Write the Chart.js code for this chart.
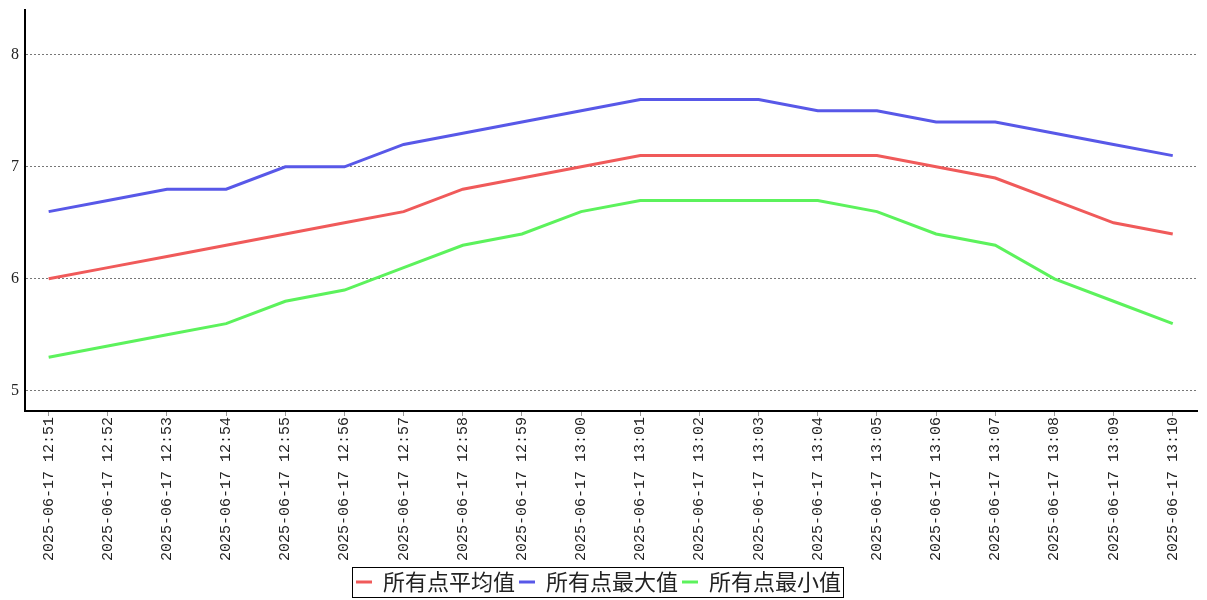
<!DOCTYPE html>
<html>
<head>
<meta charset="utf-8">
<script src="https://cdn.jsdelivr.net/npm/chart.js@4.4.0/dist/chart.umd.min.js"></script>
<style>
  html, body { margin: 0; padding: 0; background: #fff; }
  #wrap { position: relative; width: 1207px; height: 600px; }
</style>
</head>
<body>
<div id="wrap"><canvas id="chart"></canvas></div>
<script>
// ─── Data ────────────────────────────────────────────
var timeLabels = [
  '2025-06-17 12:51', '2025-06-17 12:52', '2025-06-17 12:53', '2025-06-17 12:54',
  '2025-06-17 12:55', '2025-06-17 12:56', '2025-06-17 12:57', '2025-06-17 12:58',
  '2025-06-17 12:59', '2025-06-17 13:00', '2025-06-17 13:01', '2025-06-17 13:02',
  '2025-06-17 13:03', '2025-06-17 13:04', '2025-06-17 13:05', '2025-06-17 13:06',
  '2025-06-17 13:07', '2025-06-17 13:08', '2025-06-17 13:09', '2025-06-17 13:10'
];
var avgValues = [6.0, 6.1, 6.2, 6.3, 6.4, 6.5, 6.6, 6.8, 6.9, 7.0, 7.1, 7.1, 7.1, 7.1, 7.1, 7.0, 6.9, 6.7, 6.5, 6.4];
var maxValues = [6.6, 6.7, 6.8, 6.8, 7.0, 7.0, 7.2, 7.3, 7.4, 7.5, 7.6, 7.6, 7.6, 7.5, 7.5, 7.4, 7.4, 7.3, 7.2, 7.1];
var minValues = [5.3, 5.4, 5.5, 5.6, 5.8, 5.9, 6.1, 6.3, 6.4, 6.6, 6.7, 6.7, 6.7, 6.7, 6.6, 6.4, 6.3, 6.0, 5.8, 5.6];
var yTicks = [5, 6, 7, 8];

var seriesNames  = ['所有点平均值', '所有点最大值', '所有点最小值'];
var seriesColors = ['#f05a5a', '#5858e8', '#5cf25c'];

function toPoints(arr) {
  return arr.map(function(v, i) { return { x: i, y: v }; });
}

// ─── Legend frame ────────────────────────────────────
var legendBox = {
  id: 'legendBox',
  afterDraw: function(chart) {
    var lg = chart.legend;
    if (!lg || !lg.legendHitBoxes.length) return;
    var boxes = lg.legendHitBoxes;
    var l = boxes[0].left, r = boxes[boxes.length - 1].left + boxes[boxes.length - 1].width;
    var t = boxes[0].top, b = boxes[0].top + boxes[0].height;
    var ctx = chart.ctx;
    ctx.save();
    ctx.strokeStyle = '#000';
    ctx.lineWidth = 1;
    ctx.strokeRect(Math.round(l - 4) + 0.5, Math.round(t - 4) + 0.5, Math.round(r - l + 6), Math.round(b - t + 8));
    ctx.restore();
  }
};

new Chart(document.getElementById('chart').getContext('2d'), {
  type: 'line',
  data: {
    datasets: [avgValues, maxValues, minValues].map(function(vals, i) {
      return {
        label: seriesNames[i], data: toPoints(vals),
        borderColor: seriesColors[i], backgroundColor: seriesColors[i],
        borderWidth: 3, pointRadius: 0, tension: 0, fill: false
      };
    })
  },
  options: {
    responsive: true, maintainAspectRatio: false, animation: false,
    layout: { padding: { top: 10, right: 10, left: 0, bottom: -3 } },
    plugins: {
      tooltip: { enabled: false },
      legend: {
        position: 'bottom',
        labels: {
          usePointStyle: true, pointStyle: 'line', pointStyleWidth: 16,
          color: '#222', padding: 4,
          font: { family: '"Noto Sans CJK SC", sans-serif', size: 22 }
        }
      }
    },
    scales: {
      x: {
        type: 'linear', min: -0.4, max: 19.41,
        afterFit: function(s) { s.height = 156; s.paddingLeft = 0; s.paddingRight = 0; },
        border: { color: '#000', width: 2 },
        grid: { drawOnChartArea: false, drawTicks: true, tickLength: 5, color: '#999' },
        ticks: {
          stepSize: 1, includeBounds: false, autoSkip: false,
          minRotation: 90, maxRotation: 90, color: '#222',
          font: { family: '"Liberation Mono", monospace', size: 15 }, padding: 1,
          callback: function(v) { return timeLabels[v] !== undefined ? timeLabels[v] : ''; }
        }
      },
      y: {
        min: 4.82, max: 8.4,
        afterFit: function(s) { s.width = 25; s.paddingTop = 0; s.paddingBottom = 0; },
        afterBuildTicks: function(s) { s.ticks = yTicks.map(function(v) { return { value: v }; }); },
        border: { color: '#000', width: 2, dash: [2, 2] },
        grid: { color: '#777', lineWidth: 1, drawTicks: false },
        ticks: { color: '#222', font: { family: '"Liberation Serif", serif', size: 16 }, padding: 6 }
      }
    }
  },
  plugins: [legendBox]
});
</script>
</body>
</html>
